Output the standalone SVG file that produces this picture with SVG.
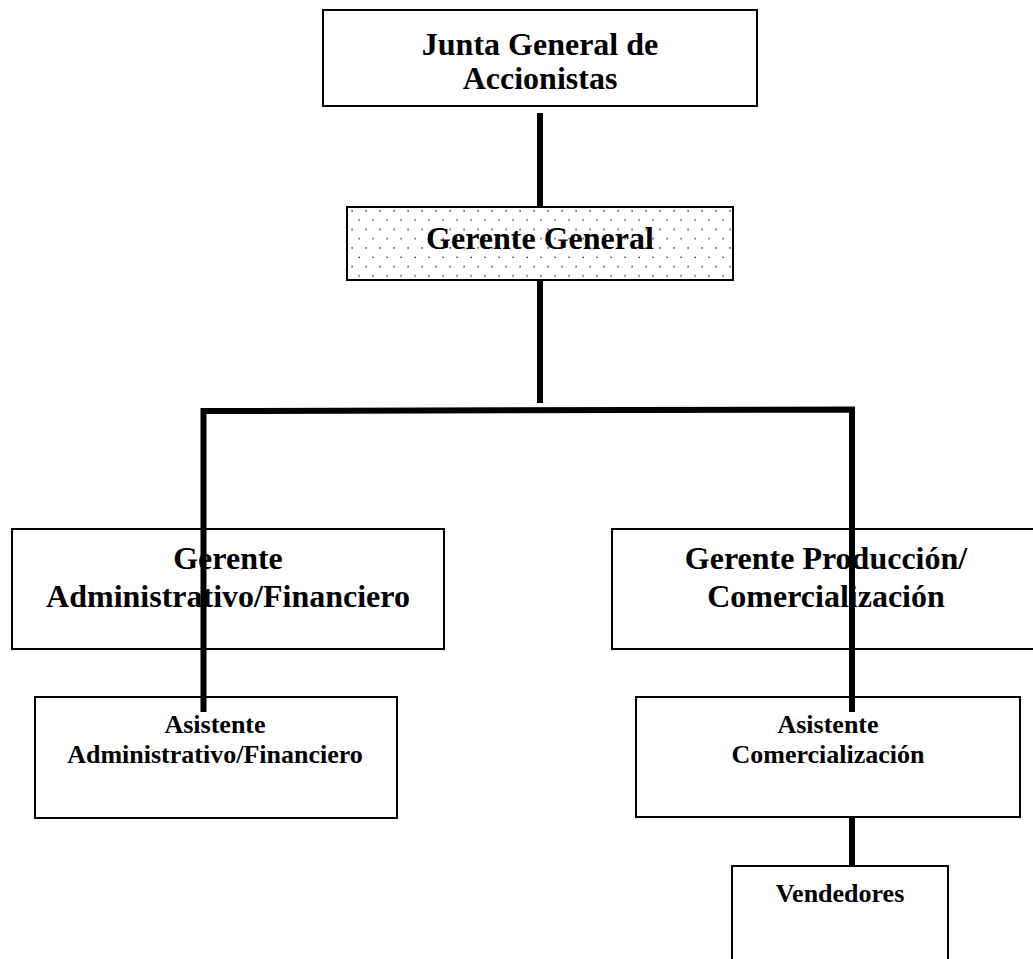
<svg xmlns="http://www.w3.org/2000/svg" width="1033" height="959" viewBox="0 0 1033 959">
<style>
.box{fill:#fff;stroke:#000;stroke-width:2}
.t32{font-family:"Liberation Serif","Times New Roman",serif;font-weight:bold;font-size:32px;text-anchor:middle;fill:#000}
.t26{font-family:"Liberation Serif","Times New Roman",serif;font-weight:bold;font-size:26px;text-anchor:middle;fill:#000}
.conn{fill:none;stroke:#000;stroke-width:6;stroke-linecap:butt;stroke-linejoin:miter}
</style>
<defs>
<pattern id="dots" patternUnits="userSpaceOnUse" x="347" y="207" width="14" height="18.6">
<rect width="14" height="18.6" fill="#fff"/>
<rect x="4.4" y="3.1" width="1.4" height="1.4" fill="#222"/>
<rect x="11.4" y="12.4" width="1.4" height="1.4" fill="#222"/>
</pattern>
</defs>
<rect width="1033" height="959" fill="#fff"/>
<g id="junta">
<rect class="box" x="323" y="10" width="434" height="96"/>
<text class="t32" x="540" y="55">Junta General de</text>
<text class="t32" x="540" y="89">Accionistas</text>
</g>
<g id="gerente-general">
<rect x="347" y="207" width="386" height="73" fill="url(#dots)" stroke="#000" stroke-width="2"/>
<text class="t32" x="540" y="249">Gerente General</text>
</g>
<g id="gerente-admin">
<rect class="box" x="12" y="529" width="432" height="120"/>
<text class="t32" x="228" y="569">Gerente</text>
<text class="t32" x="228" y="607">Administrativo/Financiero</text>
</g>
<g id="gerente-prod">
<rect class="box" x="612" y="529" width="430" height="120"/>
<text class="t32" x="826" y="569">Gerente Producción/</text>
<text class="t32" x="826" y="607">Comercialización</text>
</g>
<g id="asistente-admin">
<rect class="box" x="35" y="697" width="362" height="121"/>
<text class="t26" x="215" y="733">Asistente</text>
<text class="t26" x="215" y="763">Administrativo/Financiero</text>
</g>
<g id="asistente-com">
<rect class="box" x="636" y="697" width="384" height="120"/>
<text class="t26" x="828" y="733">Asistente</text>
<text class="t26" x="828" y="763">Comercialización</text>
</g>
<g id="vendedores">
<rect class="box" x="732" y="866" width="216" height="110"/>
<text class="t26" x="840" y="902">Vendedores</text>
</g>
<g id="connectors">
<line class="conn" x1="540" y1="113" x2="540" y2="208"/>
<line class="conn" x1="540" y1="280" x2="540" y2="403"/>
<path class="conn" d="M203.5 712 L203.5 411 L852 409.5 L852 712"/>
<line class="conn" x1="852" y1="817" x2="852" y2="866"/>
</g>
</svg>
